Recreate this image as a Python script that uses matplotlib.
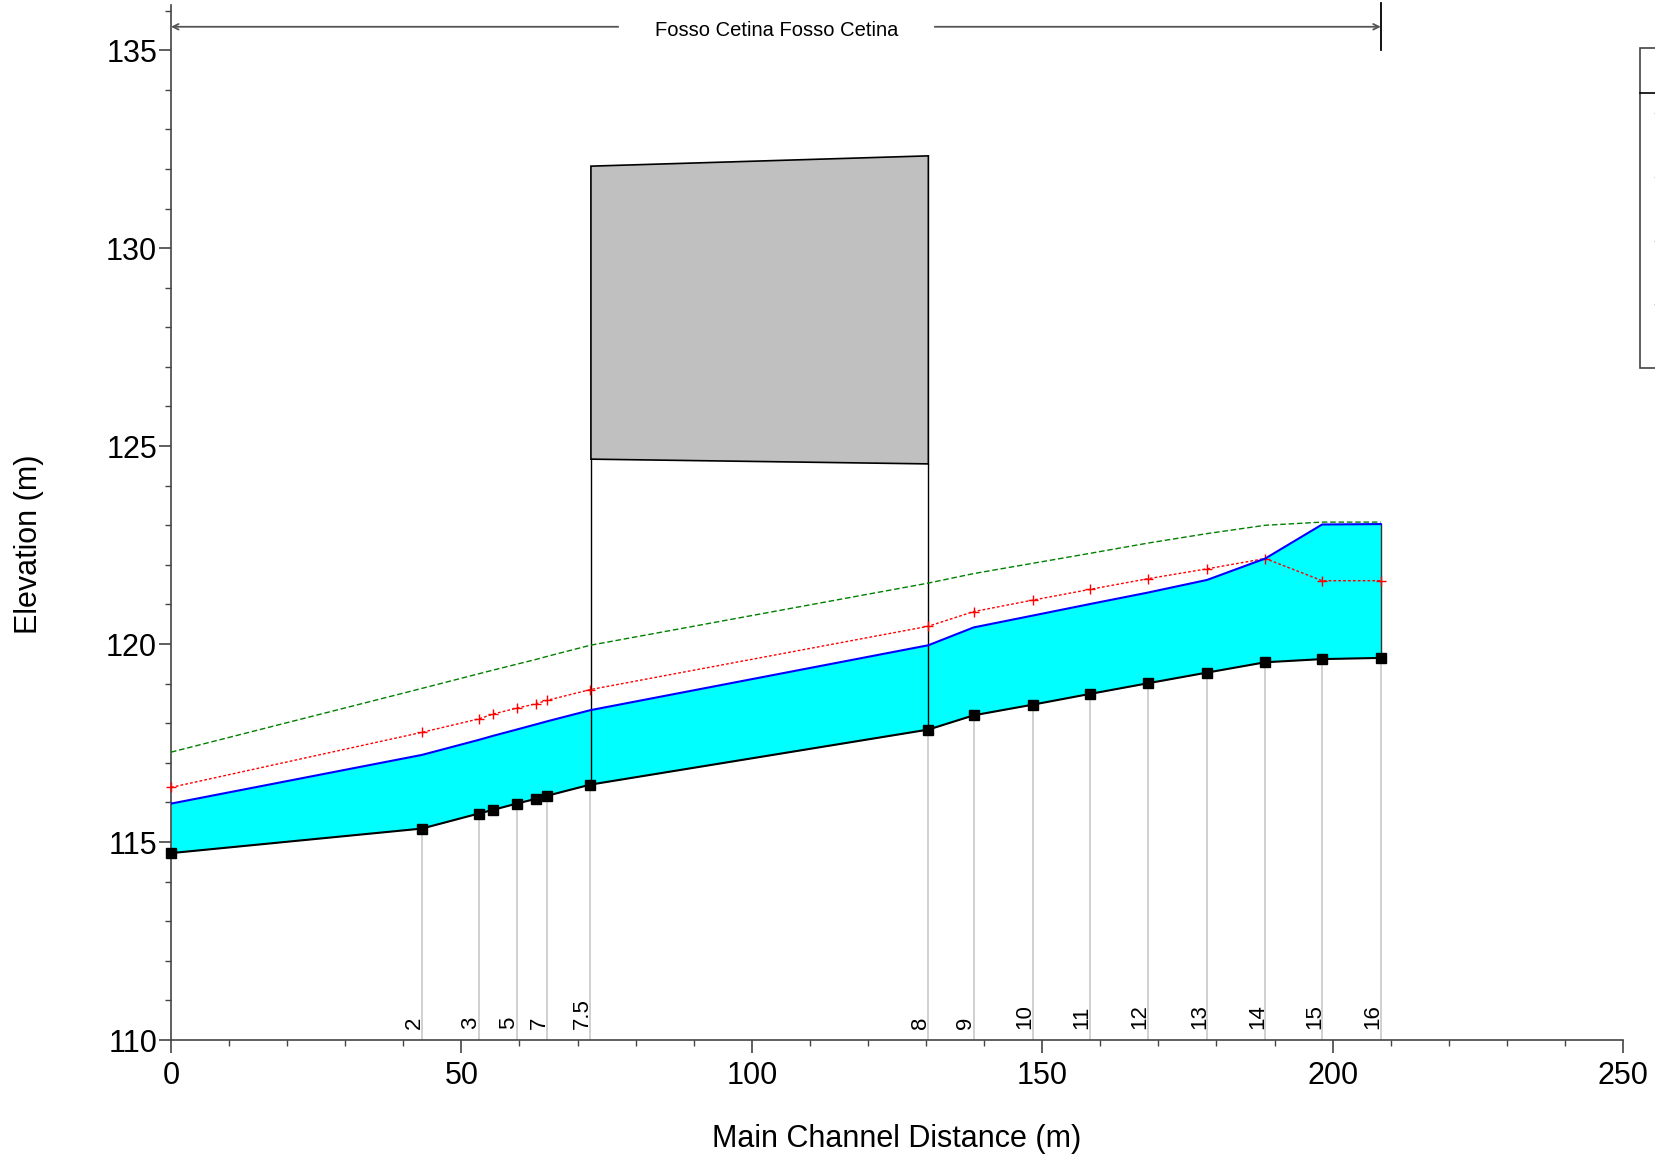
import matplotlib.pyplot as plt
from matplotlib.ticker import MultipleLocator
from matplotlib.patches import Polygon, Rectangle
from matplotlib.lines import Line2D

plt.rcParams['font.family'] = ['Liberation Sans', 'DejaVu Sans']

# ======================
# data
# ======================
dist = [0, 43.2, 53.0, 55.4, 59.5, 62.8, 64.8, 72.2, 130.4, 138.2,
        148.4, 158.2, 168.2, 178.4, 188.4, 198.2, 208.3]
station_labels = ['', '2', '3', '', '5', '', '7', '7.5', '8', '9',
                  '10', '11', '12', '13', '14', '15', '16']
ground = [114.72, 115.34, 115.72, 115.81, 115.97, 116.09, 116.17, 116.45, 117.84, 118.20,
          118.47, 118.74, 119.01, 119.28, 119.54, 119.62, 119.65]
ws = [115.97, 117.20, 117.58, 117.68, 117.84, 117.97, 118.05, 118.33, 119.97, 120.42,
      120.72, 121.01, 121.30, 121.62, 122.16, 123.02, 123.03]
crit = [116.38, 117.77, 118.11, 118.23, 118.38, 118.49, 118.58, 118.85, 120.45, 120.82,
        121.11, 121.38, 121.65, 121.90, 122.16, 121.60, 121.60]
eg = [117.27, 118.88, 119.25, 119.34, 119.49, 119.61, 119.69, 119.97, 121.54, 121.78,
      122.04, 122.29, 122.55, 122.79, 123.00, 123.08, 123.08]

# bridge: upstream / downstream face
bridge_x = [72.3, 130.4]
bridge_top = [132.07, 132.33]
bridge_low = [124.67, 124.55]
bridge_ground = [116.45, 117.84]

reach_name = "Fosso Cetina Fosso Cetina"

# ======================
# figure
# ======================
W, H = 1656, 1161
fig = plt.figure(figsize=(W / 100, H / 100), dpi=100)
ax = fig.add_axes([171 / W, (H - 1040) / H, (1623 - 171) / W, (1040 - 5) / H])

# station lines under the bed
for x, g, lab in zip(dist, ground, station_labels):
    if lab == '':
        continue
    ax.plot([x, x], [110, g], color='#c8c8c8', lw=1.2, zorder=1)
    ax.annotate(lab, (x, 110), xytext=(2, 8), textcoords='offset points',
                rotation=90, ha='right', va='bottom', fontsize=16)

# water between ground and water surface
ax.fill_between(dist, ground, ws, color='#00ffff', lw=0, zorder=2)
ax.plot([dist[-1], dist[-1]], [ground[-1], ws[-1]], color='#333333', lw=1, zorder=3)

# bridge deck and abutment lines
deck = Polygon([(bridge_x[0], bridge_low[0]), (bridge_x[0], bridge_top[0]),
                (bridge_x[1], bridge_top[1]), (bridge_x[1], bridge_low[1])],
               closed=True, facecolor='#c0c0c0', edgecolor='black', lw=1.2, zorder=4)
ax.add_patch(deck)
for x, lo, g in zip(bridge_x, bridge_low, bridge_ground):
    ax.plot([x, x], [g, lo], color='black', lw=1, zorder=4)

# profiles
ax.plot(dist, eg, color='#008000', lw=1, ls=(0, (4, 2)), zorder=5)
ax.plot(dist, crit, color='red', lw=1, ls=(0, (2, 1.5)), marker='+',
        ms=7, mew=1, zorder=5, clip_on=False)
ax.plot(dist, ws, color='blue', lw=1.5, zorder=5)
ax.plot(dist, ground, color='black', lw=1.5, marker='s', ms=6.5, zorder=6, clip_on=False)

# reach arrow at the top
y_arr = 135.59
ax.annotate('', xy=(0, y_arr), xytext=(77, y_arr),
            arrowprops=dict(arrowstyle='->', color='#555555', lw=1.3,
                            shrinkA=0, shrinkB=0))
ax.annotate('', xy=(dist[-1], y_arr), xytext=(131.5, y_arr),
            arrowprops=dict(arrowstyle='->', color='#555555', lw=1.3,
                            shrinkA=0, shrinkB=0))
ax.plot([dist[-1], dist[-1]], [135.0, 136.2], color='black', lw=1.3, clip_on=False)
ax.text(104.2, 135.5, reach_name, ha='center', va='center', fontsize=14.5)

# axes
ax.set_xlim(0, 250)
ax.set_ylim(110, 136.14)
for side in ['top', 'right']:
    ax.spines[side].set_visible(False)
for side in ['left', 'bottom']:
    ax.spines[side].set_color('#444444')
    ax.spines[side].set_linewidth(1.2)

ax.xaxis.set_major_locator(MultipleLocator(50))
ax.xaxis.set_minor_locator(MultipleLocator(10))
ax.yaxis.set_major_locator(MultipleLocator(5))
ax.yaxis.set_minor_locator(MultipleLocator(1))
ax.tick_params(which='major', length=9, width=1.2, color='#444444', labelsize=22)
ax.tick_params(which='minor', length=4.5, width=1, color='#444444')
ax.tick_params(axis='x', which='major', pad=6)
ax.tick_params(axis='y', which='major', pad=1)

ax.set_xlabel('Main Channel Distance (m)', fontsize=22)
ax.xaxis.set_label_coords(0.5, -0.0952)
ax.xaxis.label.set_verticalalignment('center')
ax.set_ylabel('Elevation (m)', fontsize=22)
ax.yaxis.set_label_coords(-0.0975, 0.479)
ax.yaxis.label.set_verticalalignment('center')

# legend box, mostly outside the right edge of the picture
def fx(px):
    return px / W

def fy(py):
    return 1 - py / H

fig.add_artist(Rectangle((fx(1640), fy(368)), fx(200), fy(48) - fy(368),
                         transform=fig.transFigure, facecolor='white',
                         edgecolor='#444444', lw=1.2))
fig.add_artist(Line2D([fx(1640), fx(1840)], [fy(93), fy(93)],
                      transform=fig.transFigure, color='black', lw=1.2))
for py, c in zip([112.7, 176.7, 240.7, 304.3], ['#008000', 'red', 'blue', 'black']):
    fig.add_artist(Line2D([fx(1655), fx(1700)], [fy(py), fy(py)],
                          transform=fig.transFigure, color=c, lw=1))

fig.savefig('out.png', dpi=100)
